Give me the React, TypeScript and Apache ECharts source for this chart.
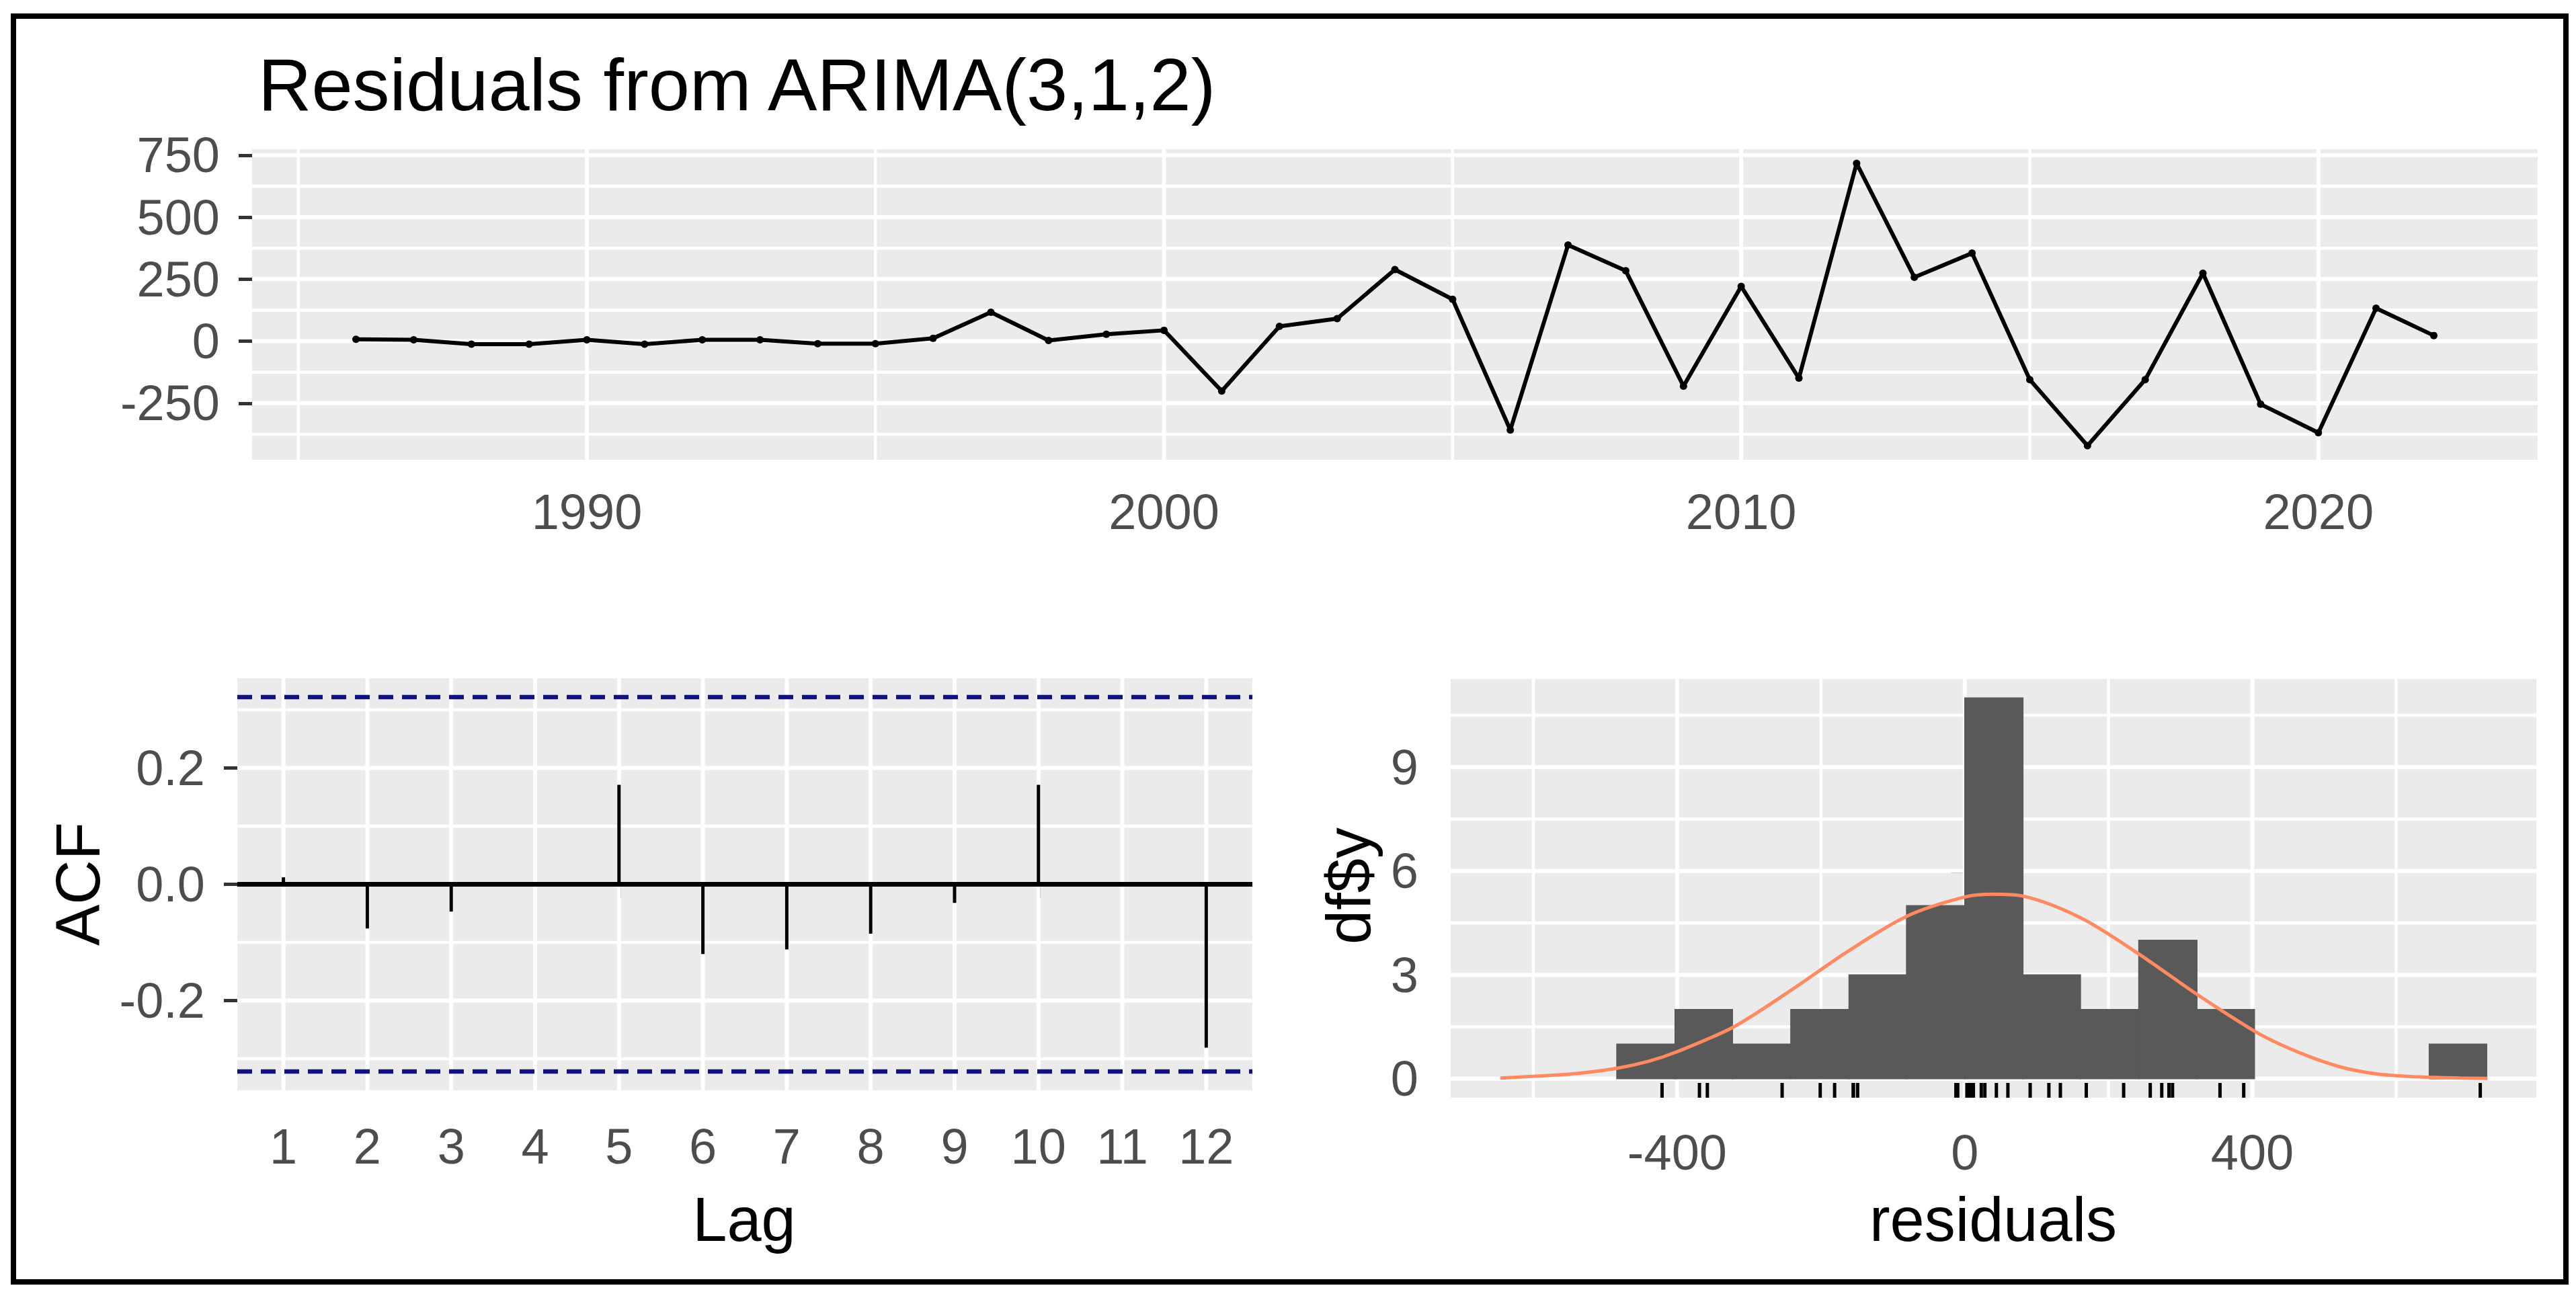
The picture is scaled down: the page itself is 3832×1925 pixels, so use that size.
import React, { useEffect, useRef } from "react";
import * as echarts from "echarts";

// ---------- data ----------
const years = [
  1986, 1987, 1988, 1989, 1990, 1991, 1992, 1993, 1994, 1995, 1996, 1997, 1998,
  1999, 2000, 2001, 2002, 2003, 2004, 2005, 2006, 2007, 2008, 2009, 2010, 2011,
  2012, 2013, 2014, 2015, 2016, 2017, 2018, 2019, 2020, 2021, 2022,
];
const residuals = [
  8, 6, -12, -12, 6, -12, 6, 6, -10, -10, 12, 117, 3,
  28, 44, -201, 60, 91, 289, 169, -358, 388, 284, -181, 221, -149,
  717, 258, 355, -155, -421, -155, 274, -254, -369, 133, 23,
];

const lags = [1, 2, 3, 4, 5, 6, 7, 8, 9, 10, 11, 12];
const acfValues = [0.012, -0.076, -0.047, 0.003, 0.171, -0.12, -0.112, -0.085, -0.032, 0.171, -0.004, -0.281];
const ciBound = 0.322;

const binEdges = [-484, -403, -323, -242, -161, -81, 0, 81, 161, 242, 323, 403, 484, 565, 646, 726];
const binCounts = [1, 2, 1, 2, 3, 5, 11, 3, 2, 4, 2, 0, 0, 0, 1];

const normalCurveX = [-646, -598, -540, -484, -440, -400, -321, -242, -161, -80, 0, 40, 80, 161, 241, 322, 404, 440, 487, 530, 569, 610, 646, 690, 727];
const normalCurveY = [0.02, 0.07, 0.15, 0.3, 0.5, 0.78, 1.5, 2.55, 3.7, 4.7, 5.25, 5.33, 5.28, 4.65, 3.62, 2.45, 1.36, 0.98, 0.58, 0.3, 0.15, 0.07, 0.04, 0.02, 0.01];

// tick labels / breaks
const topXTicks = [1990, 2000, 2010, 2020];
const topXMinor = [1985, 1995, 2005, 2015];
const topYTicks = [-250, 0, 250, 500, 750];
const topYMinor = [-375, -125, 125, 375, 625];
const acfYTicks = [-0.2, 0, 0.2];
const acfYMinor = [-0.3, -0.1, 0.1, 0.3];
const histXTicks = [-400, 0, 400];
const histXMinor = [-600, -200, 200, 600];
const histYTicks = [0, 3, 6, 9];
const histYMinor = [1.5, 4.5, 7.5, 10.5];

const FONT = "'Liberation Sans', Arial, Helvetica, sans-serif";
const TICK_COLOR = "#333333";
const LABEL_COLOR = "#4D4D4D";
const PANEL_BG = "#EBEBEB";

function gridLinesSeries(
  idx: number,
  ref: [number, number],
  xMajor: number[],
  xMinor: number[],
  yMajor: number[],
  yMinor: number[]
) {
  return {
    type: "custom",
    xAxisIndex: idx,
    yAxisIndex: idx,
    z: 1,
    silent: true,
    data: [ref],
    renderItem: (params: any, api: any) => {
      const cs = params.coordSys;
      const x0 = cs.x, x1 = cs.x + cs.width, y0 = cs.y, y1 = cs.y + cs.height;
      const children: any[] = [];
      const v = (val: number, w: number) => {
        const px = api.coord([val, ref[1]])[0];
        children.push({ type: "line", shape: { x1: px, y1: y0, x2: px, y2: y1 }, style: { stroke: "#FFFFFF", lineWidth: w } });
      };
      const h = (val: number, w: number) => {
        const py = api.coord([ref[0], val])[1];
        children.push({ type: "line", shape: { x1: x0, y1: py, x2: x1, y2: py }, style: { stroke: "#FFFFFF", lineWidth: w } });
      };
      xMinor.forEach((m) => v(m, 4.5));
      yMinor.forEach((m) => h(m, 4.5));
      xMajor.forEach((m) => v(m, 6));
      yMajor.forEach((m) => h(m, 6));
      return { type: "group", children };
    },
  };
}

function valueAxis(
  idx: number,
  min: number,
  max: number,
  ticks: number[],
  margin: number,
  formatter?: (v: number) => string
) {
  return {
    type: "value",
    gridIndex: idx,
    min,
    max,
    axisLine: { show: false },
    axisTick: { show: true, customValues: ticks, length: 20, lineStyle: { color: TICK_COLOR, width: 5 } },
    axisLabel: {
      customValues: ticks,
      color: LABEL_COLOR,
      fontSize: 74,
      fontFamily: FONT,
      margin,
      formatter: formatter || ((v: number) => String(v)),
    },
    splitLine: { show: false },
  };
}

export default function App() {
  const ref = useRef<HTMLDivElement>(null);

  useEffect(() => {
    if (!ref.current) return;
    const chart = echarts.init(ref.current, undefined, { renderer: "svg" });

    const option: any = {
      animation: false,
      backgroundColor: "#FFFFFF",
      grid: [
        { left: 375, top: 222, width: 3400, height: 462, show: true, backgroundColor: PANEL_BG, borderWidth: 0 },
        { left: 353, top: 1009, width: 1510, height: 613, show: true, backgroundColor: PANEL_BG, borderWidth: 0 },
        { left: 2158, top: 1010, width: 1615, height: 623, show: true, backgroundColor: PANEL_BG, borderWidth: 0 },
      ],
      xAxis: [
        valueAxis(0, 1984.2, 2023.8, topXTicks, 40),
        valueAxis(1, 0.45, 12.55, lags, 46),
        valueAxis(2, -715, 795, histXTicks, 44),
      ],
      yAxis: [
        valueAxis(0, -478, 774, topYTicks, 48),
        valueAxis(1, -0.3544, 0.3544, acfYTicks, 48, (v: number) => v.toFixed(1)),
        valueAxis(2, -0.55, 11.55, histYTicks, 48),
      ],
      graphic: [
        {
          type: "rect",
          shape: { x: 20, y: 24, width: 3797, height: 1883 },
          style: { fill: "none", stroke: "#000000", lineWidth: 8 },
          z: 100,
        },
        {
          type: "text",
          x: 384,
          y: 125,
          style: { text: "Residuals from ARIMA(3,1,2)", fill: "#000000", fontSize: 110, fontFamily: FONT, textAlign: "left", textVerticalAlign: "middle" },
        },
        {
          type: "text",
          x: 1107,
          y: 1814,
          style: { text: "Lag", fill: "#000000", fontSize: 92, fontFamily: FONT, textAlign: "center", textVerticalAlign: "middle" },
        },
        {
          type: "text",
          x: 2965,
          y: 1814,
          style: { text: "residuals", fill: "#000000", fontSize: 92, fontFamily: FONT, textAlign: "center", textVerticalAlign: "middle" },
        },
        {
          type: "text",
          x: 116,
          y: 1315,
          rotation: Math.PI / 2,
          style: { text: "ACF", fill: "#000000", fontSize: 92, fontFamily: FONT, textAlign: "center", textVerticalAlign: "middle" },
        },
        {
          type: "text",
          x: 2006,
          y: 1318,
          rotation: Math.PI / 2,
          style: { text: "df$y", fill: "#000000", fontSize: 92, fontFamily: FONT, textAlign: "center", textVerticalAlign: "middle" },
        },
      ],
      series: [
        gridLinesSeries(0, [2000, 0], topXTicks, topXMinor, topYTicks, topYMinor),
        gridLinesSeries(1, [6, 0], lags, [], acfYTicks, acfYMinor),
        gridLinesSeries(2, [0, 3], histXTicks, histXMinor, histYTicks, histYMinor),
        // residual time series
        {
          type: "line",
          xAxisIndex: 0,
          yAxisIndex: 0,
          z: 3,
          data: years.map((y, i) => [y, residuals[i]]),
          showSymbol: true,
          symbol: "circle",
          symbolSize: 11,
          itemStyle: { color: "#000000" },
          lineStyle: { color: "#000000", width: 6 },
        },
        // ACF zero line
        {
          type: "custom",
          xAxisIndex: 1,
          yAxisIndex: 1,
          z: 3,
          silent: true,
          data: [[6, 0]],
          renderItem: (params: any, api: any) => {
            const cs = params.coordSys;
            const py = api.coord([api.value(0), api.value(1)])[1];
            return { type: "line", shape: { x1: cs.x, y1: py, x2: cs.x + cs.width, y2: py }, style: { stroke: "#000000", lineWidth: 7 } };
          },
        },
        // ACF spikes
        {
          type: "custom",
          xAxisIndex: 1,
          yAxisIndex: 1,
          z: 4,
          silent: true,
          data: lags.map((l, i) => [l, acfValues[i]]),
          renderItem: (params: any, api: any) => {
            const p0 = api.coord([api.value(0), 0]);
            const p1 = api.coord([api.value(0), api.value(1)]);
            return { type: "line", shape: { x1: p0[0], y1: p0[1], x2: p1[0], y2: p1[1] }, style: { stroke: "#000000", lineWidth: 5 } };
          },
        },
        // ACF confidence bounds
        {
          type: "custom",
          xAxisIndex: 1,
          yAxisIndex: 1,
          z: 5,
          silent: true,
          data: [[6, ciBound], [6, -ciBound]],
          renderItem: (params: any, api: any) => {
            const cs = params.coordSys;
            const py = api.coord([api.value(0), api.value(1)])[1];
            return {
              type: "line",
              shape: { x1: cs.x, y1: py, x2: cs.x + cs.width, y2: py },
              style: { stroke: "#12127E", lineWidth: 6.5, lineDash: [22, 13] },
            };
          },
        },
        // histogram bars
        {
          type: "custom",
          xAxisIndex: 2,
          yAxisIndex: 2,
          z: 3,
          silent: true,
          encode: { x: [0, 1], y: 2 },
          data: binCounts.map((c, i) => [binEdges[i], binEdges[i + 1], c]),
          renderItem: (params: any, api: any) => {
            const c = api.value(2);
            if (!c) return null;
            const p0 = api.coord([api.value(0), 0]);
            const p1 = api.coord([api.value(1), c]);
            return {
              type: "rect",
              shape: { x: p0[0], y: p1[1], width: p1[0] - p0[0], height: p0[1] - p1[1] },
              style: { fill: "#595959", stroke: "#595959", lineWidth: 1.5 },
            };
          },
        },
        // rug
        {
          type: "custom",
          xAxisIndex: 2,
          yAxisIndex: 2,
          z: 4,
          silent: true,
          data: residuals.map((r) => [r, 0]),
          renderItem: (params: any, api: any) => {
            const cs = params.coordSys;
            const px = api.coord([api.value(0), 0])[0];
            const yb = cs.y + cs.height;
            return { type: "line", shape: { x1: px, y1: yb - 22, x2: px, y2: yb }, style: { stroke: "#000000", lineWidth: 5 } };
          },
        },
        // normal curve
        {
          type: "line",
          xAxisIndex: 2,
          yAxisIndex: 2,
          z: 5,
          data: normalCurveX.map((x, i) => [x, normalCurveY[i]]),
          showSymbol: false,
          smooth: 0.3,
          lineStyle: { color: "#FF8A62", width: 5 },
        },
      ],
    };

    chart.setOption(option);
    return () => chart.dispose();
  }, []);

  return (
    <div
      ref={ref}
      style={{ position: "fixed", left: 0, top: 0, width: 3832, height: 1925, background: "#FFFFFF" }}
    />
  );
}
